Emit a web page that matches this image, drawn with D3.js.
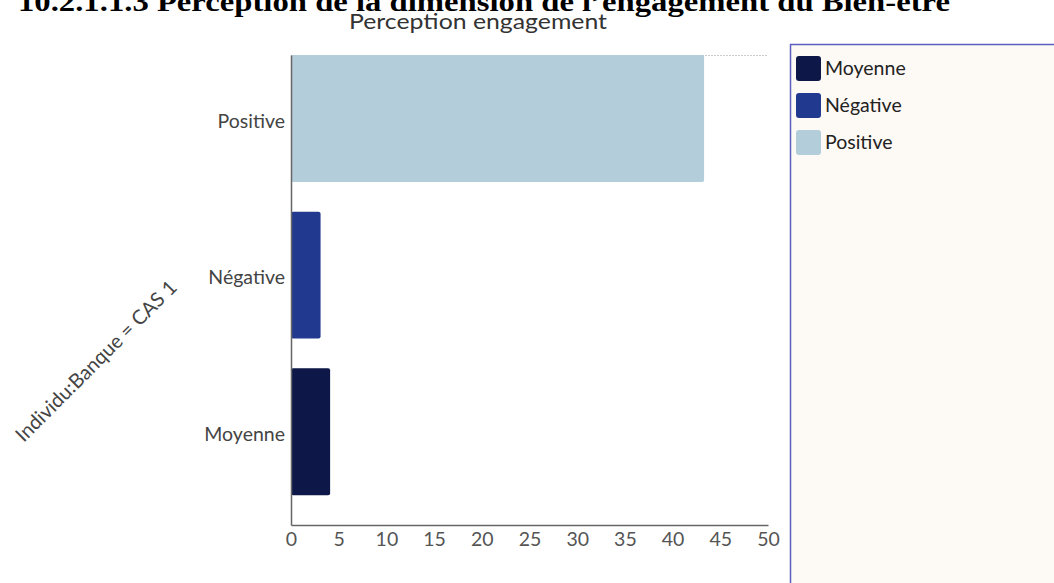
<!DOCTYPE html>
<html><head><meta charset="utf-8">
<script src="https://cdn.jsdelivr.net/npm/d3@7"></script>
<style>body{margin:0;background:#fff;overflow:hidden}</style>
</head><body>
<svg id="c" width="1054" height="583"></svg>
<script>
const categories = ["Positive", "Négative", "Moyenne"];
const values = [43.3, 3.1, 4.1];
const legendItems = ["Moyenne", "Négative", "Positive"];
const colors = {"Moyenne": "#0d1748", "Négative": "#213a8f", "Positive": "#b3cddb"};
const xTicks = [0,5,10,15,20,25,30,35,40,45,50];

const svg = d3.select("#c");
const m = {l:291, r:768, t:55, b:525};
const x = d3.scaleLinear().domain([0,50]).range([m.l, m.r]);
const y = d3.scaleBand().domain(categories).range([m.t, m.b]).paddingInner(0).paddingOuter(0);
const bh = y.bandwidth() * 0.81;

// title (cut off at top)
svg.append("text").attr("x", 18).attr("y", 11)
  .attr("font-family", "Liberation Serif, Times New Roman, serif")
  .attr("font-weight", "bold").attr("font-size", 28).attr("fill", "#000")
  .attr("textLength", 932).attr("lengthAdjust", "spacingAndGlyphs")
  .text("10.2.1.1.3 Perception de la dimension de l’engagement du Bien-être");

svg.append("text").attr("x", 478).attr("y", 29).attr("text-anchor", "middle")
  .attr("font-family", "Lato, sans-serif").attr("font-size", 22).attr("fill", "#333")
  .attr("textLength", 258).attr("lengthAdjust", "spacingAndGlyphs")
  .text("Perception engagement");

// top faint line
svg.append("line").attr("x1", m.l).attr("x2", m.r).attr("y1", m.t+0.5).attr("y2", m.t+0.5)
  .attr("stroke", "#ccc").attr("stroke-dasharray", "2,1");

// bars
svg.selectAll("rect.bar").data(categories).enter().append("rect").attr("class","bar")
  .attr("x", x(0)).attr("y", d => y(d))
  .attr("width", (d,i) => x(values[i]) - x(0)).attr("height", bh)
  .attr("rx", 2).attr("fill", d => colors[d]);

// axes
const xa = svg.append("g").attr("transform", `translate(0,${m.b})`)
  .call(d3.axisBottom(x).tickValues(xTicks).tickSize(0).tickPadding(7));
xa.select(".domain").attr("stroke", "#666").attr("stroke-width", 1.5);
xa.selectAll("text").attr("font-family", "Lato, sans-serif").attr("font-size", 19.5).attr("fill", "#555");

const ya = svg.append("g").attr("transform", `translate(${m.l},0)`)
  .call(d3.axisLeft(y).tickSize(0).tickPadding(6));
ya.select(".domain").attr("stroke", "#666").attr("stroke-width", 1.5);
ya.selectAll(".tick").attr("transform", d => `translate(0,${y(d)+bh/2+3})`);
ya.selectAll("text").attr("font-family", "Lato, sans-serif").attr("font-size", 19.5).attr("fill", "#444");

// rotated axis title
svg.append("text").attr("transform", "translate(96,361) rotate(-45)")
  .attr("text-anchor", "middle").attr("dy", "0.35em")
  .attr("font-family", "Lato, sans-serif").attr("font-size", 20).attr("fill", "#444")
  .text("Individu:Banque = CAS 1");

// legend
svg.append("rect").attr("x", 790.5).attr("y", 44.5).attr("width", 280).attr("height", 560)
  .attr("fill", "#fdf9f5").attr("stroke", "#5a5fbf").attr("stroke-width", 1.5);
const lg = svg.selectAll("g.leg").data(legendItems).enter().append("g")
  .attr("transform", (d,i) => `translate(796,${56 + i*37})`);
lg.append("rect").attr("width", 25).attr("height", 25).attr("rx", 3).attr("fill", d => colors[d]);
lg.append("text").attr("x", 29).attr("y", 12).attr("dy", "0.35em")
  .attr("font-family", "Lato, sans-serif").attr("font-size", 19.5).attr("fill", "#222").text(d => d);
</script>
</body></html>
